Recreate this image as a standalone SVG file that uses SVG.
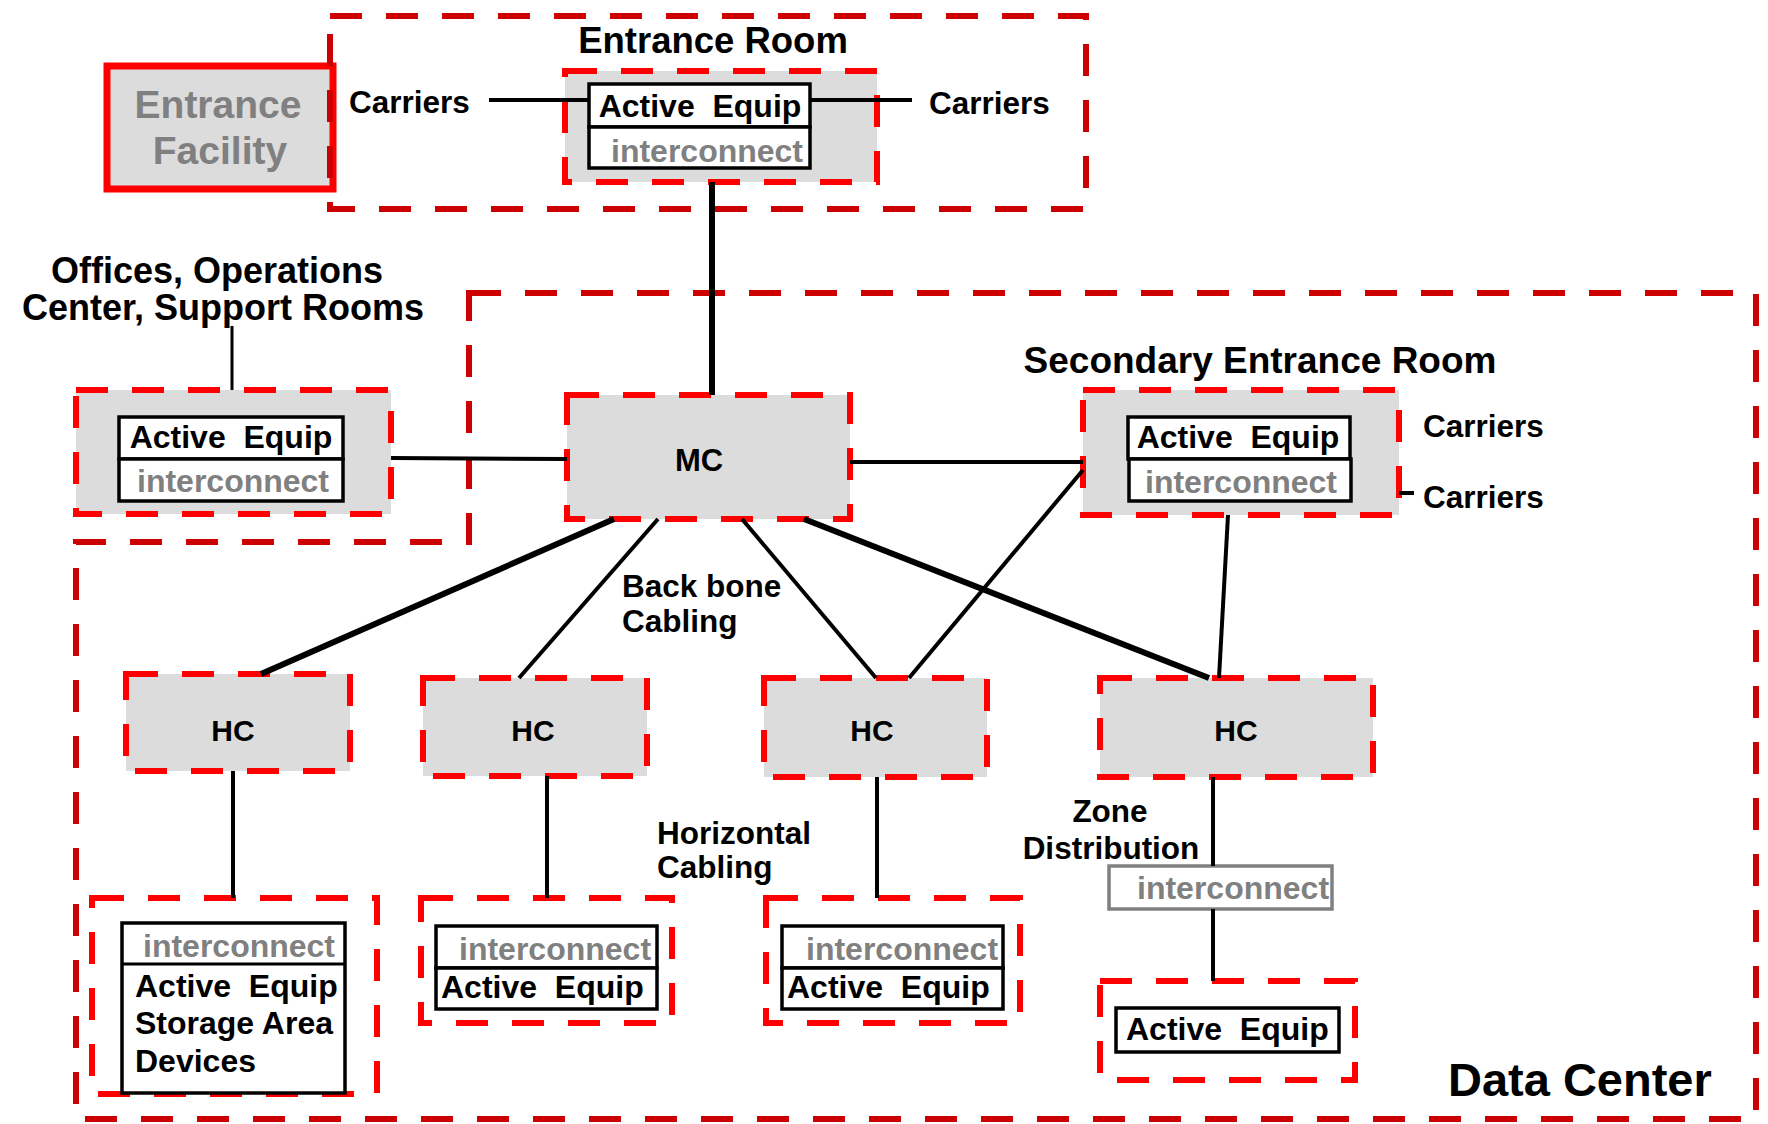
<svg xmlns="http://www.w3.org/2000/svg" width="1768" height="1124" viewBox="0 0 1768 1124">
<style>
.t{font-family:"Liberation Sans",Arial,Helvetica,sans-serif;font-weight:bold;fill:#000;white-space:pre}
.g{fill:#808080}
.m{text-anchor:middle}
.room{fill:none;stroke:#cc0000;stroke-width:6;stroke-dasharray:32 24}
.node{fill:#dcdcdc;stroke:#ff0000;stroke-width:6;stroke-dasharray:32 24}
.nodew{fill:none;stroke:#ff0000;stroke-width:6;stroke-dasharray:32 24}
.box{fill:#fff;stroke:#000;stroke-width:3.5}
.gbox{fill:#fff;stroke:#808080;stroke-width:3.5}
.ln{stroke:#000;stroke-width:4;fill:none}
.thk{stroke-width:6}
.thn{stroke-width:3}
.f31{font-size:31.5px}
.f32{font-size:32px}
.f37{font-size:37px}
</style>
<rect width="1768" height="1124" fill="#fff"/>

<g id="entrance-facility">
<rect x="107" y="66" width="226" height="123" fill="#dcdcdc" stroke="#ff0000" stroke-width="7"/>
<text class="t g m" x="218" y="118" font-size="39">Entrance</text>
<text class="t g m" x="220" y="164" font-size="39">Facility</text>
</g>

<g id="entrance-room">
<rect class="room" x="330" y="16" width="756" height="193"/>
<text class="t m" x="713" y="53" font-size="36.5">Entrance Room</text>
<text class="t f31" x="349" y="113">Carriers</text>
<text class="t f31" x="929" y="114">Carriers</text>
</g>

<g id="data-center">
<path class="room" d="M469,293 H1756 V1119 H76 V542 H469 Z"/>
<text class="t" x="1448" y="1096" font-size="47">Data Center</text>
</g>

<g id="offices-label">
<text class="t m" font-size="36"><tspan x="217" y="283">Offices, Operations</tspan><tspan x="223" y="320">Center, Support Rooms</tspan></text>
</g>

<g id="er-node">
<rect class="node" x="565" y="71" width="312" height="111"/>
<rect class="box" x="589" y="84" width="221" height="43"/>
<text xml:space="preserve" class="t f32 m" x="700" y="117">Active  Equip</text>
<rect class="box" x="589" y="127" width="221" height="41"/>
<text class="t g f32 m" x="707" y="162">interconnect</text>
</g>

<g id="offices-node">
<rect class="node" x="76" y="390" width="315" height="124"/>
<rect class="box" x="119" y="417" width="224" height="42"/>
<text xml:space="preserve" class="t f32 m" x="231" y="448">Active  Equip</text>
<rect class="box" x="119" y="459" width="224" height="42"/>
<text class="t g f32 m" x="233" y="492">interconnect</text>
</g>

<g id="mc">
<rect class="node" x="567" y="395" width="283" height="124"/>
<text class="t m" x="699" y="471" font-size="31">MC</text>
</g>

<g id="secondary-er">
<text class="t f37 m" x="1260" y="373">Secondary Entrance Room</text>
<rect class="node" x="1083" y="390" width="316" height="125"/>
<rect class="box" x="1128" y="417" width="222" height="42"/>
<text xml:space="preserve" class="t f32 m" x="1238" y="448">Active  Equip</text>
<rect class="box" x="1129" y="459" width="222" height="42"/>
<text class="t g f32 m" x="1241" y="493">interconnect</text>
<text class="t f31" x="1423" y="437">Carriers</text>
<text class="t f31" x="1423" y="508">Carriers</text>
</g>

<g id="hc1">
<rect class="node" x="126" y="674" width="224" height="97"/>
<text class="t m" x="233" y="741" font-size="30">HC</text>
</g>
<g id="hc2">
<rect class="node" x="423" y="678" width="224" height="98"/>
<text class="t m" x="533" y="741" font-size="30">HC</text>
</g>
<g id="hc3">
<rect class="node" x="764" y="678" width="223" height="99"/>
<text class="t m" x="872" y="741" font-size="30">HC</text>
</g>
<g id="hc4">
<rect class="node" x="1100" y="678" width="273" height="99"/>
<text class="t m" x="1236" y="741" font-size="30">HC</text>
</g>

<g id="labels">
<text class="t f31" x="622" y="597">Back bone</text>
<text class="t f31" x="622" y="632">Cabling</text>
<text class="t f31" x="657" y="844">Horizontal</text>
<text class="t f31" x="657" y="878">Cabling</text>
<text class="t f31 m" x="1110" y="822">Zone</text>
<text class="t f31 m" x="1111" y="859">Distribution</text>
</g>

<g id="san-node">
<rect class="nodew" x="92" y="898" width="285" height="196"/>
<rect class="box" x="122" y="923" width="223" height="170"/>
<line class="ln thn" x1="122" y1="964" x2="345" y2="964"/>
<text class="t g f32 m" x="239" y="957">interconnect</text>
<text xml:space="preserve" class="t f32" x="135" y="997">Active  Equip</text>
<text class="t f32" x="135" y="1034">Storage Area</text>
<text class="t f32" x="135" y="1072">Devices</text>
</g>

<g id="node-2">
<rect class="nodew" x="421" y="898" width="251" height="125"/>
<rect class="box" x="436" y="926" width="221" height="42"/>
<text class="t g f32" x="459" y="960">interconnect</text>
<rect class="box" x="436" y="968" width="221" height="41"/>
<text xml:space="preserve" class="t f32" x="441" y="998">Active  Equip</text>
</g>

<g id="node-3">
<rect class="nodew" x="766" y="898" width="254" height="125"/>
<rect class="box" x="782" y="926" width="221" height="42"/>
<text class="t g f32" x="806" y="960">interconnect</text>
<rect class="box" x="782" y="968" width="221" height="41"/>
<text xml:space="preserve" class="t f32" x="787" y="998">Active  Equip</text>
</g>

<g id="zone-interconnect">
<rect class="gbox" x="1109" y="866" width="223" height="43"/>
<text class="t g f32" x="1137" y="899">interconnect</text>
</g>

<g id="node-4">
<rect class="nodew" x="1100" y="981" width="255" height="99"/>
<rect class="box" x="1116" y="1008" width="223" height="44"/>
<text xml:space="preserve" class="t f32" x="1126" y="1040">Active  Equip</text>
</g>

<g id="connectors">
<line class="ln" x1="489" y1="100" x2="589" y2="100"/>
<line class="ln" x1="810" y1="100" x2="912" y2="100"/>
<line class="ln thk" x1="712" y1="182" x2="712" y2="395"/>
<line class="ln thn" x1="232" y1="326" x2="232" y2="390"/>
<line class="ln" x1="391" y1="458" x2="567" y2="459"/>
<line class="ln" x1="850" y1="462" x2="1083" y2="462"/>
<line class="ln thk" x1="614" y1="519" x2="261" y2="674"/>
<line class="ln" x1="658" y1="519" x2="519" y2="678"/>
<line class="ln" x1="742" y1="519" x2="876" y2="678"/>
<line class="ln thk" x1="804" y1="519" x2="1209" y2="678"/>
<line class="ln" x1="1083" y1="470" x2="909" y2="678"/>
<line class="ln" x1="1228" y1="515" x2="1219" y2="678"/>
<line class="ln" x1="1399" y1="493" x2="1414" y2="493"/>
<line class="ln" x1="233" y1="771" x2="233" y2="898"/>
<line class="ln" x1="547" y1="776" x2="547" y2="898"/>
<line class="ln" x1="877" y1="777" x2="877" y2="898"/>
<line class="ln" x1="1213" y1="777" x2="1213" y2="866"/>
<line class="ln" x1="1213" y1="909" x2="1213" y2="981"/>
</g>
</svg>
